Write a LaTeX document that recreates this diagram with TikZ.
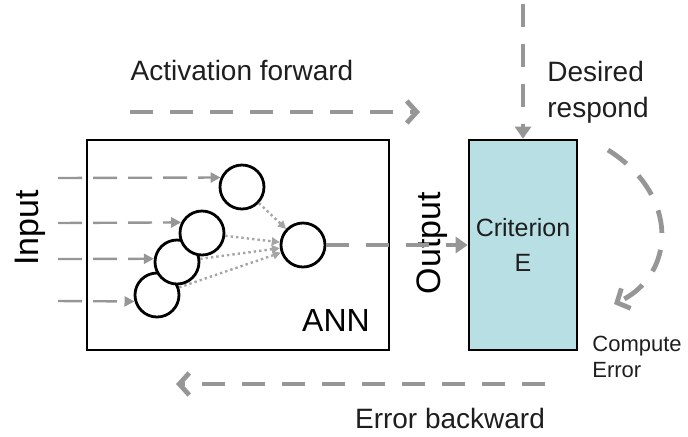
\documentclass[tikz,border=0pt]{standalone}
\usepackage{fontspec}
\setmainfont{Liberation Sans}
\usetikzlibrary{arrows.meta, positioning}
\definecolor{flowGrey}{RGB}{150,150,150}
\definecolor{dotGrey}{RGB}{165,165,165}
\definecolor{criterionFill}{RGB}{184,224,228}
\definecolor{textDark}{RGB}{30,30,30}
\tikzset{
  neuronNode/.style={circle, draw=black, line width=1.4pt, fill=white, minimum size=22pt, inner sep=0pt},
  annBox/.style={draw=black, line width=1.3pt, minimum width=151pt, minimum height=105pt, inner sep=0pt},
  criterionNode/.style={draw=black, line width=1.3pt, fill=criterionFill, minimum width=54pt, minimum height=105pt,
    align=center, font=\fontsize{12.5}{17.5}\selectfont, text=textDark},
  labelText/.style={font=\fontsize{14}{18}\selectfont, text=textDark, inner sep=0pt},
  sideText/.style={font=\fontsize{17}{20}\selectfont, rotate=90, inner sep=0pt},
  smallText/.style={font=\fontsize{11}{13}\selectfont, text=textDark, inner sep=0pt, align=left},
  bigFlow/.style={-{Straight Barb[length=5pt,width=11pt]}, line width=2.4pt, draw=flowGrey, dash pattern=on 11.5pt off 8.5pt},
  solidFlow/.style={-{Triangle[length=6pt,width=8pt]}, line width=2.4pt, draw=flowGrey, dash pattern=on 11.5pt off 8.5pt},
  inputFlow/.style={-{Triangle[length=5pt,width=5pt]}, line width=1.2pt, draw=flowGrey, dash pattern=on 12pt off 5.5pt},
  weightFlow/.style={-{Triangle[length=4pt,width=4pt]}, line width=1.2pt, draw=dotGrey, dash pattern=on 1.2pt off 1.5pt}
}

\begin{document}
\begin{tikzpicture}[x=0.5pt, y=-0.5pt]
  \useasboundingbox (0,0) rectangle (688,436);

  % boxes
  \node[annBox] (ann) at (238,245) {};
  \node[criterionNode] (crit) at (523,245) {Criterion\\E};

  % neurons, back to front
  \node[neuronNode] (n4) at (157,295) {};
  \node[neuronNode] (n3) at (177,262) {};
  \node[neuronNode] (n2) at (202,233) {};
  \node[neuronNode] (n1) at (242,187) {};
  \node[neuronNode] (out) at (303,245) {};

  % free ends
  \coordinate (in1) at (58,178);
  \coordinate (in2) at (58,223);
  \coordinate (in3) at (58,259);
  \coordinate (in4) at (58,301);
  \coordinate (fwdStart) at (130,112);
  \coordinate (fwdEnd) at (420,112);
  \coordinate (desiredTop) at (523,4);
  \coordinate (errStart) at (545,384);
  \coordinate (errEnd) at (176,384);
  \coordinate (compStart) at (608,150);
  \coordinate (compEnd) at (614,304);

  % labels
  \node[labelText] (fwdLabel) at (242,70) {Activation forward};
  \node[labelText, align=left] (desiredLabel) at (598,92) {Desired\\respond};
  \node[labelText] (errLabel) at (450,418) {Error backward};
  \node[smallText, anchor=west] (compLabel) at (592,357) {Compute\\Error};
  \node[font=\fontsize{16}{18}\selectfont, inner sep=0pt] (annLabel) at (336,320) {ANN};
  \node[sideText] (inputLabel) at (30,228) {Input};
  \node[sideText] (outputLabel) at (432,243) {Output};

  % inputs
  \draw[inputFlow] (in1) -- (n1.156);
  \draw[inputFlow] (in2) -- (n2.153);
  \draw[inputFlow] (in3) -- (n3.172);
  \draw[inputFlow] (in4) -- (n4.196);

  % weights
  \foreach \src in {n1,n2,n3,n4}
    \draw[weightFlow] (\src) -- (out);

  % main flows
  \draw[solidFlow] (out) -- (crit.west |- out);
  \draw[solidFlow] (desiredTop) -- (crit.north);
  \draw[bigFlow] (fwdStart) -- (fwdEnd);
  \draw[bigFlow] (errStart) -- (errEnd);
  \draw[bigFlow] (compStart) .. controls (680,195) and (676,275) .. (compEnd);
\end{tikzpicture}
\end{document}
